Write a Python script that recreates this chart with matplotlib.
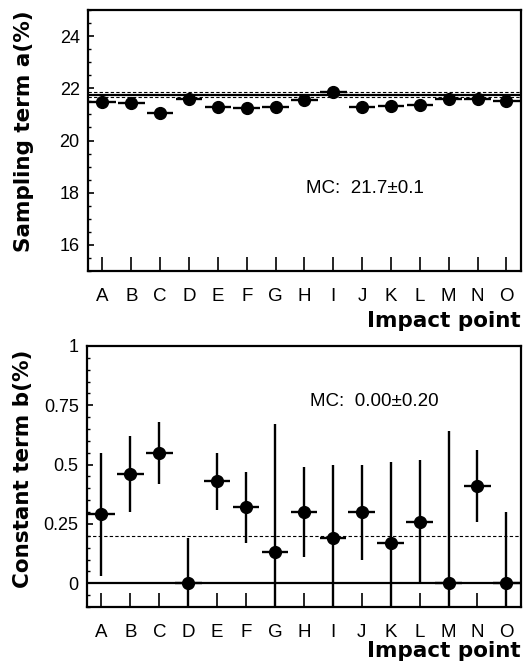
import matplotlib
matplotlib.use("Agg")
import matplotlib.pyplot as plt
from matplotlib.ticker import MultipleLocator

# ---------------------------------------------
# DATA
# ---------------------------------------------

points = list("ABCDEFGHIJKLMNO")

sampling_a = [21.48, 21.43, 21.04, 21.59, 21.29, 21.24, 21.27, 21.55,
              21.85, 21.27, 21.33, 21.36, 21.59, 21.59, 21.52]

constant_b = [0.29, 0.46, 0.55, 0.00, 0.43, 0.32, 0.13, 0.30,
              0.19, 0.30, 0.17, 0.26, 0.00, 0.41, 0.00]
constant_b_err = [0.26, 0.16, 0.13, 0.19, 0.12, 0.15, 0.54, 0.19,
                  0.31, 0.20, 0.34, 0.26, 0.64, 0.15, 0.30]

mc_a, mc_a_err = 21.75, 0.1
mc_b, mc_b_err = 0.0, 0.2

HALF_BIN = 0.46

# ---------------------------------------------
# STYLE
# ---------------------------------------------

plt.rcParams['font.family'] = ['Liberation Sans', 'DejaVu Sans']
plt.rcParams['font.size'] = 13

LABEL_FONT = dict(family='DejaVu Sans', fontweight='bold', fontsize=15.5)

fig = plt.figure(figsize=(5.32, 6.67), dpi=100)

ax_a = fig.add_axes([0.1654, 0.5937, 0.8136, 0.3913])
ax_b = fig.add_axes([0.1635, 0.0900, 0.8155, 0.3913])

x = list(range(len(points)))


def style_axis(ax):
    for side in ax.spines.values():
        side.set_linewidth(1.6)
    ax.set_xlim(-0.5, 14.5)
    ax.set_xticks(x)
    ax.set_xticklabels(points)
    ax.tick_params(axis='x', direction='in', length=10, width=1.2,
                   pad=12.5, labelsize=13.5)
    ax.tick_params(axis='y', which='major', direction='in', length=4.5,
                   width=1.2, labelsize=13, pad=6)
    ax.tick_params(axis='y', which='minor', direction='in', length=2.2,
                   width=1.0)


# ---------------------------------------------
# SAMPLING TERM
# ---------------------------------------------

style_axis(ax_a)
ax_a.set_ylim(15, 25)
ax_a.yaxis.set_major_locator(MultipleLocator(2))
ax_a.yaxis.set_minor_locator(MultipleLocator(0.5))
ax_a.set_yticks([16, 18, 20, 22, 24])

ax_a.axhline(mc_a, color='black', linewidth=1.6, zorder=2)
ax_a.axhline(mc_a + mc_a_err, color='black', linewidth=0.8,
             linestyle=(0, (3, 2)), zorder=2)
ax_a.axhline(mc_a - mc_a_err, color='black', linewidth=0.8,
             linestyle=(0, (3, 2)), zorder=2)

ax_a.errorbar(x, sampling_a, xerr=HALF_BIN, fmt='o', color='black',
              markersize=8.5, elinewidth=1.7, capsize=0, zorder=3)

ax_a.text(7.05, 18.0, "MC:  21.7\u00b10.1", fontsize=13.5, va='baseline')

ax_a.set_ylabel("Sampling term a(%)", **LABEL_FONT)
ax_a.yaxis.set_label_coords(-0.125, 0.536)
ax_a.text(1.0, -0.215, "Impact point", transform=ax_a.transAxes,
          ha='right', va='baseline', **LABEL_FONT)

# ---------------------------------------------
# CONSTANT TERM
# ---------------------------------------------

style_axis(ax_b)
ax_b.set_ylim(-0.1, 1.0)
ax_b.set_yticks([0, 0.25, 0.5, 0.75, 1])
ax_b.set_yticklabels(["0", "0.25", "0.5", "0.75", "1"])
ax_b.yaxis.set_minor_locator(MultipleLocator(0.05))

ax_b.axhline(mc_b, color='black', linewidth=1.6, zorder=2)
ax_b.axhline(mc_b + mc_b_err, color='black', linewidth=0.8,
             linestyle=(0, (3, 2)), zorder=2)

ax_b.errorbar(x, constant_b, xerr=HALF_BIN, yerr=constant_b_err, fmt='o',
              color='black', markersize=8.5, elinewidth=1.7, capsize=0,
              zorder=3)

ax_b.text(7.2, 0.747, "MC:  0.00\u00b10.20", fontsize=13.5, va='baseline')

ax_b.set_ylabel("Constant term b(%)", **LABEL_FONT)
ax_b.yaxis.set_label_coords(-0.125, 0.529)
ax_b.text(1.0, -0.192, "Impact point", transform=ax_b.transAxes,
          ha='right', va='baseline', **LABEL_FONT)

fig.savefig("out.png", dpi=100)
